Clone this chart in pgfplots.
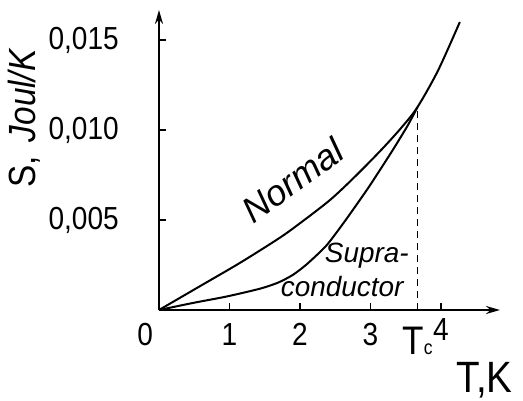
\documentclass[border=0pt]{standalone}
\usepackage{fontspec}
\setmainfont{Liberation Sans}
\newfontfamily\tickfont{Liberation Sans}[FakeStretch=0.88]
\usepackage{pgfplots}
\pgfplotsset{compat=1.18}
\usetikzlibrary{arrows.meta}

\pgfplotstableread{
T S
0 0
0.58 0.00132
1.15 0.00262
1.69 0.00395
1.96 0.00470
2.43 0.00612
2.81 0.00752
3.18 0.00900
3.46 0.01022
3.67 0.01128
3.96 0.01330
4.27 0.01600
}\normaldata

\pgfplotstableread{
T S
0 0
0.48 0.00039
0.96 0.00075
1.43 0.00118
1.69 0.00152
1.90 0.00195
2.10 0.00255
2.38 0.00360
2.65 0.00500
2.95 0.00667
3.09 0.00750
3.32 0.00890
3.53 0.01025
3.67 0.01128
}\supradata

\begin{document}
\begin{tikzpicture}
\useasboundingbox (-159bp,-91bp) rectangle (364bp,310bp);
\begin{axis}[
  at={(0,0)}, anchor=origin,
  scale only axis, width=341bp, height=300bp,
  xmin=0, xmax=4.84, ymin=0, ymax=0.016667,
  axis lines=left,
  axis line style={line width=2bp, -{Stealth[length=14bp,width=8bp]}},
  clip=false,
  tick align=inside, major tick length=7bp,
  tick style={line width=1.5bp, black},
  xtick={0,1,2,3,4},
  xticklabels={\makebox[0pt][r]{0\hspace{6bp}},1,2,3,\raisebox{5bp}{4}},
  xticklabel style={font=\tickfont\fontsize{32}{32}\selectfont, anchor=base, yshift=-35bp, inner sep=0pt},
  ytick={0.005,0.01,0.015},
  yticklabels={{0,005},{0,010},{0,015}},
  scaled y ticks=false,
  yticklabel style={font=\tickfont\fontsize{32}{32}\selectfont, anchor=east, xshift=-40bp, inner sep=0pt},
  xlabel={T,K},
  xlabel style={at={(rel axis cs:0.955,-0.233)}, anchor=center, inner sep=0pt, font=\tickfont\fontsize{44}{44}\selectfont},
  ylabel={S,\hspace{14bp}\textit{Joul/K}},
  ylabel style={at={(rel axis cs:-0.395,0.64)}, anchor=center, inner sep=0pt, font=\tickfont\fontsize{38}{38}\selectfont},
]
\addplot[black, line width=2bp, smooth, tension=0.5] table[x=T,y=S] {\normaldata};
\addplot[black, line width=2bp, smooth, tension=0.4] table[x=T,y=S] {\supradata};
\addplot[black, line width=1.5bp, dash pattern=on 7bp off 5bp] coordinates {(3.67,0) (3.67,0.01128)};
\node[font=\itshape\fontsize{36}{36}\selectfont, rotate=36, inner sep=0pt] at (axis cs:1.90,0.0072) {Normal};
\node[font=\itshape\fontsize{28}{28}\selectfont, inner sep=0pt] at (axis cs:2.95,0.0030) {Supra-};
\node[font=\itshape\fontsize{28}{28}\selectfont, inner sep=0pt] at (axis cs:2.6,0.00128) {conductor};
\node[anchor=north, inner sep=0pt] at (axis cs:3.67,0) [yshift=-17bp] {\tickfont\fontsize{40}{40}\selectfont T\fontsize{20}{20}\selectfont c};
\end{axis}
\end{tikzpicture}
\end{document}
